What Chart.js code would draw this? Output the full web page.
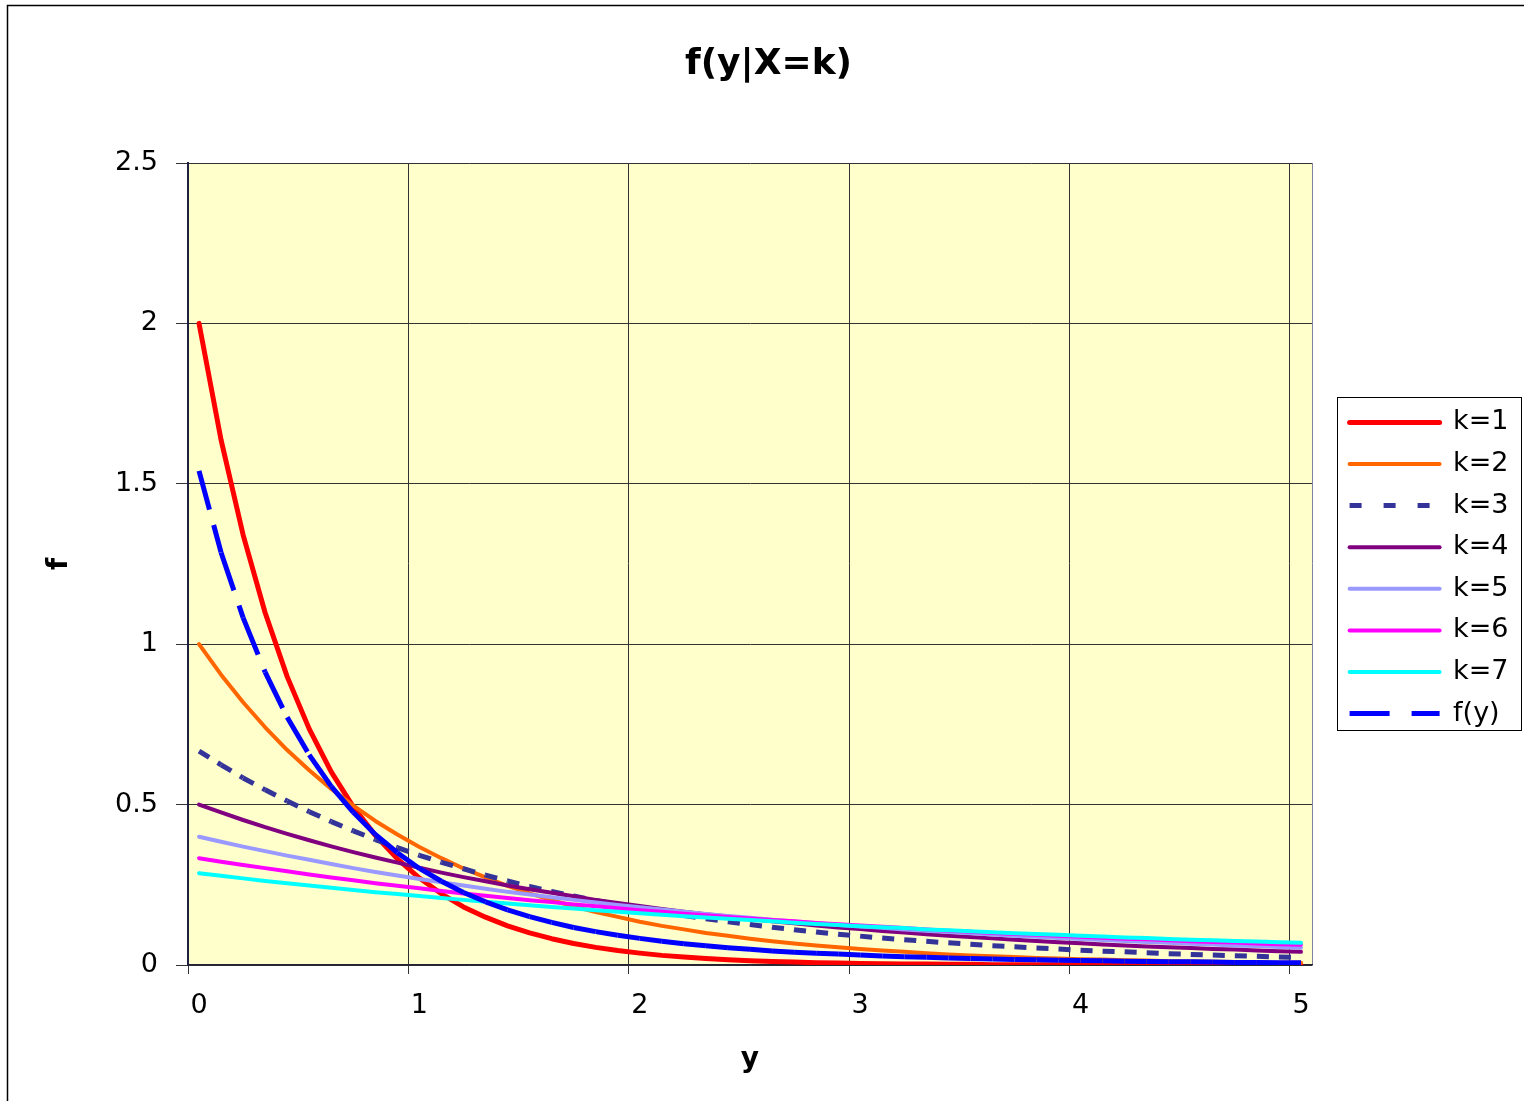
<!DOCTYPE html>
<html>
<head>
<meta charset="utf-8">
<title>f(y|X=k)</title>
<script src="https://cdn.jsdelivr.net/npm/chart.js@4.4.1/dist/chart.umd.min.js"></script>
<style>
  html, body { margin: 0; padding: 0; background: #ffffff; }
  canvas { display: block; }
</style>
</head>
<body>
<canvas id="condChart" width="1524" height="1101"></canvas>
<script>
// y values (category axis, step 0.1)
const categories = ['0','0.1','0.2','0.3','0.4','0.5','0.6','0.7','0.8','0.9',
  '1','1.1','1.2','1.3','1.4','1.5','1.6','1.7','1.8','1.9',
  '2','2.1','2.2','2.3','2.4','2.5','2.6','2.7','2.8','2.9',
  '3','3.1','3.2','3.3','3.4','3.5','3.6','3.7','3.8','3.9',
  '4','4.1','4.2','4.3','4.4','4.5','4.6','4.7','4.8','4.9','5'];

const xTickLabels = ['0', '1', '2', '3', '4', '5'];
const yTicks = [0, 0.5, 1, 1.5, 2, 2.5];

const k1 = [2.000,1.637,1.341,1.098,0.899,0.736,0.602,0.493,0.404,0.331,
  0.271,0.222,0.181,0.149,0.122,0.100,0.082,0.067,0.055,0.045,
  0.037,0.030,0.025,0.020,0.016,0.013,0.011,0.009,0.007,0.006,
  0.005,0.004,0.003,0.003,0.002,0.002,0.001,0.001,0.001,0.001,
  0.001,0.001,0.000,0.000,0.000,0.000,0.000,0.000,0.000,0.000,0.000];

const k2 = [1.000,0.905,0.819,0.741,0.670,0.607,0.549,0.497,0.449,0.407,
  0.368,0.333,0.301,0.273,0.247,0.223,0.202,0.183,0.165,0.150,
  0.135,0.122,0.111,0.100,0.091,0.082,0.074,0.067,0.061,0.055,
  0.050,0.045,0.041,0.037,0.033,0.030,0.027,0.025,0.022,0.020,
  0.018,0.017,0.015,0.014,0.012,0.011,0.010,0.009,0.008,0.007,0.007];

const k3 = [0.667,0.624,0.583,0.546,0.511,0.478,0.447,0.418,0.391,0.366,
  0.342,0.320,0.300,0.280,0.262,0.245,0.229,0.215,0.201,0.188,
  0.176,0.164,0.154,0.144,0.135,0.126,0.118,0.110,0.103,0.096,
  0.090,0.084,0.079,0.074,0.069,0.065,0.060,0.057,0.053,0.050,
  0.046,0.043,0.041,0.038,0.035,0.033,0.031,0.029,0.027,0.025,0.024];

const k4 = [0.500,0.476,0.452,0.430,0.409,0.389,0.370,0.352,0.335,0.319,
  0.303,0.288,0.274,0.261,0.248,0.236,0.225,0.214,0.203,0.193,
  0.184,0.175,0.166,0.158,0.151,0.143,0.136,0.130,0.123,0.117,
  0.112,0.106,0.101,0.096,0.091,0.087,0.083,0.079,0.075,0.071,
  0.068,0.064,0.061,0.058,0.055,0.053,0.050,0.048,0.045,0.043,0.041];

const k5 = [0.400,0.384,0.369,0.355,0.341,0.328,0.315,0.302,0.290,0.279,
  0.268,0.258,0.248,0.238,0.228,0.220,0.211,0.203,0.195,0.187,
  0.180,0.173,0.166,0.159,0.153,0.147,0.141,0.136,0.131,0.125,
  0.120,0.116,0.111,0.107,0.103,0.099,0.095,0.091,0.088,0.084,
  0.081,0.078,0.075,0.072,0.069,0.066,0.064,0.061,0.059,0.056,0.054];

const k6 = [0.333,0.322,0.312,0.302,0.292,0.282,0.273,0.264,0.255,0.247,
  0.239,0.231,0.223,0.216,0.209,0.202,0.196,0.189,0.183,0.177,
  0.171,0.166,0.160,0.155,0.150,0.145,0.140,0.136,0.131,0.127,
  0.123,0.119,0.115,0.111,0.107,0.104,0.100,0.097,0.094,0.091,
  0.088,0.085,0.082,0.080,0.077,0.074,0.072,0.070,0.067,0.065,0.063];

const k7 = [0.286,0.278,0.270,0.262,0.255,0.248,0.241,0.234,0.227,0.221,
  0.215,0.209,0.203,0.197,0.192,0.186,0.181,0.176,0.171,0.166,
  0.161,0.157,0.152,0.148,0.144,0.140,0.136,0.132,0.128,0.125,
  0.121,0.118,0.115,0.111,0.108,0.105,0.102,0.099,0.097,0.094,
  0.091,0.089,0.086,0.084,0.081,0.079,0.077,0.075,0.073,0.071,0.069];

const fy = [1.540,1.286,1.083,0.913,0.772,0.655,0.557,0.476,0.407,0.350,
  0.301,0.261,0.226,0.197,0.172,0.151,0.133,0.117,0.104,0.093,
  0.083,0.074,0.066,0.060,0.054,0.049,0.044,0.040,0.037,0.034,
  0.031,0.028,0.026,0.024,0.022,0.020,0.019,0.017,0.016,0.015,
  0.014,0.013,0.012,0.011,0.010,0.010,0.009,0.008,0.008,0.007,0.007];

const seriesNames = ['k=1', 'k=2', 'k=3', 'k=4', 'k=5', 'k=6', 'k=7', 'f(y)'];
const seriesValues = [k1, k2, k3, k4, k5, k6, k7, fy];

// look of each line (legendDash only for the legend sample)
const lineStyles = [
  { color: '#ff0000', width: 5, dash: [] },
  { color: '#ff6600', width: 4, dash: [] },
  { color: '#333399', width: 5, dash: [12, 10], legendDash: [12, 22] },
  { color: '#800080', width: 4, dash: [] },
  { color: '#9999ff', width: 4, dash: [] },
  { color: '#ff00ff', width: 4, dash: [] },
  { color: '#00ffff', width: 4, dash: [] },
  { color: '#0000ff', width: 5, dash: [40, 16], legendDash: [40, 22] }
];

Chart.defaults.font.family = '"DejaVu Sans", Verdana, sans-serif';
Chart.defaults.color = '#000000';

// Excel restarts the dash pattern on every segment
const restartDash = { borderDashOffset: c => (c.p0DataIndex % 2) * 0.001 };

const datasets = seriesNames.map((name, i) => {
  const st = lineStyles[i];
  const dashed = st.dash.length > 0;
  return {
    label: name,
    data: seriesValues[i],
    borderColor: st.color,
    backgroundColor: st.color,
    borderWidth: st.width,
    borderDash: st.dash,
    borderCapStyle: dashed ? 'butt' : 'round',
    borderJoinStyle: 'round',
    segment: dashed ? restartDash : undefined,
    tension: 0,
    pointRadius: 0,
    pointHoverRadius: 0,
    pointStyle: 'line',
    order: seriesNames.length - i
  };
});

const chartFrame = {
  id: 'chartFrame',
  beforeDraw(chart) {
    const { ctx, chartArea: a } = chart;
    ctx.save();
    ctx.fillStyle = '#ffffff';
    ctx.fillRect(0, 0, chart.width, chart.height);
    ctx.fillStyle = '#ffffcc';
    ctx.fillRect(a.left, a.top, a.right - a.left, a.bottom - a.top);
    ctx.strokeStyle = '#000000';
    ctx.lineWidth = 1.5;
    ctx.strokeRect(7.5, 5.5, chart.width + 20, chart.height + 20);
    ctx.restore();
  },
  afterDraw(chart) {
    const lg = chart.legend;
    const ctx = chart.ctx;
    const mid = (lg.top + lg.bottom) / 2;
    ctx.save();
    ctx.strokeStyle = '#000000';
    ctx.lineWidth = 1;
    ctx.strokeRect(Math.round(lg.left + 2) + 0.5, Math.round(mid - 167) + 0.5, 184, 333);
    ctx.restore();
  }
};

const baseLabels = Chart.defaults.plugins.legend.labels.generateLabels;

const ctx = document.getElementById('condChart').getContext('2d');
const chart = new Chart(ctx, {
  type: 'line',
  data: { labels: categories, datasets: datasets },
  plugins: [chartFrame],
  options: {
    responsive: false,
    animation: false,
    events: [],
    layout: { padding: { left: 20, right: 7, top: 0, bottom: 0 } },
    scales: {
      x: {
        type: 'category',
        offset: true,
        afterFit: s => { s.height = 136; },
        grid: {
          offset: true,
          lineWidth: 1,
          tickLength: 9,
          color: c => c.index === undefined ? '#8080a0' : (c.index % 10 === 0 && c.index > 0 ? '#333333' : 'rgba(0,0,0,0)'),
          tickColor: c => (c.index !== undefined && c.index % 10 === 0) ? '#333333' : 'rgba(0,0,0,0)'
        },
        border: { display: true, color: '#222233', width: 1.5 },
        ticks: {
          autoSkip: false,
          maxRotation: 0,
          minRotation: 0,
          padding: 15.8,
          font: { size: 27 },
          color: '#000000',
          callback: (v, i) => (i % 10 === 0 ? xTickLabels[i / 10] : '')
        },
        title: {
          display: true,
          text: 'y',
          font: { size: 28, weight: 'bold' },
          color: '#000000',
          padding: { top: 20, bottom: 24.2 }
        }
      },
      y: {
        type: 'linear',
        min: 0,
        max: 2.5,
        afterFit: s => { s.width = 168; },
        afterBuildTicks: s => { s.ticks = yTicks.map(v => ({ value: v })); },
        grid: { color: '#333333', lineWidth: 1, tickLength: 12, tickColor: '#333333' },
        border: { display: true, color: '#1f1f3f', width: 2 },
        ticks: { padding: 18, font: { size: 27 }, color: '#000000', callback: v => String(v) },
        title: {
          display: true,
          text: 'f',
          font: { size: 28, weight: 'bold' },
          color: '#000000',
          padding: { top: 23.2, bottom: 0 }
        }
      },
      gap: {
        type: 'linear',
        position: 'right',
        display: true,
        afterFit: s => { s.width = 23; },
        grid: { display: false, drawTicks: false },
        border: { display: false },
        ticks: { display: false }
      }
    },
    plugins: {
      title: {
        display: true,
        text: 'f(y|X=k)',
        font: { size: 36, weight: 'bold' },
        color: '#000000',
        padding: { top: 43.4, bottom: 76.4 }
      },
      legend: {
        display: true,
        position: 'right',
        align: 'center',
        fullSize: false,
        maxWidth: 182,
        title: { display: true, text: '', font: { size: 1 }, padding: { top: 3.4, bottom: 3.4 } },
        labels: {
          usePointStyle: true,
          pointStyleWidth: 90,
          padding: 14.6,
          font: { size: 27 },
          color: '#000000',
          sort: (a, b) => a.datasetIndex - b.datasetIndex,
          generateLabels: c => baseLabels(c).map(item => {
            const st = lineStyles[item.datasetIndex];
            item.lineDash = st.legendDash || [];
            item.lineDashOffset = 0;
            item.lineCap = st.dash.length ? 'butt' : 'round';
            return item;
          })
        }
      },
      tooltip: { enabled: false }
    }
  }
});
</script>
</body>
</html>
